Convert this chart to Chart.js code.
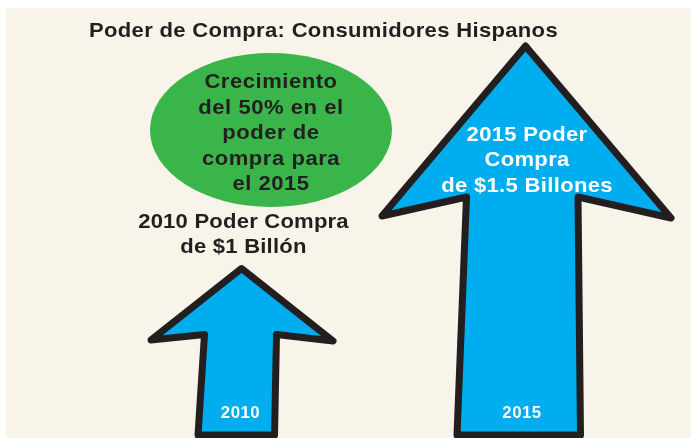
<!DOCTYPE html>
<html>
<head>
<meta charset="utf-8">
<script src="https://cdn.jsdelivr.net/npm/chart.js@4/dist/chart.umd.min.js"></script>
<style>
html,body{margin:0;padding:0;background:#ffffff;}
#wrap{position:relative;width:691px;height:438px;}
</style>
</head>
<body>
<div id="wrap"><canvas id="c" width="691" height="438"></canvas></div>
<script>
// ---- data ----
const years = ['2010', '2015'];
const purchasingPower = [1, 1.5]; // billones de dólares
const titleText = 'Poder de Compra: Consumidores Hispanos';
const growthNote = ['Crecimiento', 'del 50% en el', 'poder de', 'compra para', 'el 2015'];
const label2010 = ['2010 Poder Compra', 'de $1 Billón'];
const label2015 = ['2015 Poder', 'Compra', 'de $1.5 Billones'];

const FONT = '"Liberation Sans", Arial, Helvetica, sans-serif';
const DARK = '#231f20';
const STRETCH = 1.05;

// arrow outline shapes, offsets from (bar x, bar top); 'B' = bottom of area
const arrowShapes = [
  [[0,3.5],[91.5,76],[35,69.5],[33,'B'],[-43.5,'B'],[-37,69.5],[-90.5,75]],
  [[0,3.5],[145.5,175.5],[52.5,154.5],[55,'B'],[-68.5,'B'],[-59,154.5],[-143.5,173.5]]
];

const bgPlugin = {
  id: 'bg',
  beforeDraw(chart) {
    const ctx = chart.ctx;
    ctx.save();
    ctx.fillStyle = '#ffffff';
    ctx.fillRect(0, 0, chart.width, chart.height);
    ctx.fillStyle = '#f8f4e9';
    ctx.fillRect(6, 8, chart.width - 6, chart.height - 8);
    // growth ellipse
    ctx.fillStyle = '#3ab54a';
    ctx.beginPath();
    ctx.ellipse(271, 130, 121, 77, 0, 0, Math.PI * 2);
    ctx.fill();
    ctx.restore();
  }
};

function stretchText(ctx, t, x, y) {
  ctx.save();
  ctx.translate(x, y);
  ctx.scale(STRETCH, 1);
  ctx.fillText(t, 0, 0);
  ctx.restore();
}
function drawLines(ctx, lines, x, y0, step) {
  lines.forEach((t, i) => stretchText(ctx, t, x, y0 + i * step));
}

const arrowPlugin = {
  id: 'arrows',
  afterDatasetsDraw(chart) {
    const ctx = chart.ctx;
    const meta = chart.getDatasetMeta(0);
    const bottom = chart.chartArea.bottom + 1;
    ctx.save();
    meta.data.forEach((bar, i) => {
      const shape = arrowShapes[i];
      ctx.beginPath();
      shape.forEach((p, j) => {
        const px = bar.x + p[0];
        const py = p[1] === 'B' ? bottom : bar.y + p[1];
        if (j === 0) ctx.moveTo(px, py); else ctx.lineTo(px, py);
      });
      ctx.closePath();
      ctx.fillStyle = '#00aeef';
      ctx.fill();
      ctx.lineWidth = 7;
      ctx.lineJoin = 'round';
      ctx.strokeStyle = DARK;
      ctx.stroke();
    });
    // texts
    ctx.textAlign = 'center';
    ctx.textBaseline = 'alphabetic';
    ctx.fillStyle = DARK;
    ctx.font = 'bold 21px ' + FONT;
    ctx.letterSpacing = '0.3px';
    stretchText(ctx, titleText, 323.5, 37);
    ctx.letterSpacing = '0.5px';
    drawLines(ctx, growthNote, 271, 88, 25.5);
    ctx.letterSpacing = '0.2px';
    drawLines(ctx, label2010, 243.5, 228, 25);
    ctx.letterSpacing = '0.3px';
    ctx.fillStyle = '#ffffff';
    drawLines(ctx, label2015, 527, 141, 25.3);
    ctx.font = 'bold 16px ' + FONT;
    ctx.letterSpacing = '0.5px';
    stretchText(ctx, years[0], meta.data[0].x - 1, 418);
    stretchText(ctx, years[1], meta.data[1].x - 3.5, 418);
    ctx.restore();
  }
};

new Chart(document.getElementById('c'), {
  type: 'bar',
  data: {
    labels: years,
    datasets: [{
      data: purchasingPower,
      backgroundColor: 'rgba(0,0,0,0)',
      borderWidth: 0
    }]
  },
  options: {
    responsive: false,
    animation: false,
    devicePixelRatio: 1,
    layout: { padding: { left: 99.5, right: 23.5, top: 20.25, bottom: 3.9 } },
    plugins: { legend: { display: false }, tooltip: { enabled: false }, title: { display: false } },
    scales: {
      x: { display: false },
      y: { display: false, min: 0.62, max: 1.55 }
    }
  },
  plugins: [bgPlugin, arrowPlugin]
});
</script>
</body>
</html>
